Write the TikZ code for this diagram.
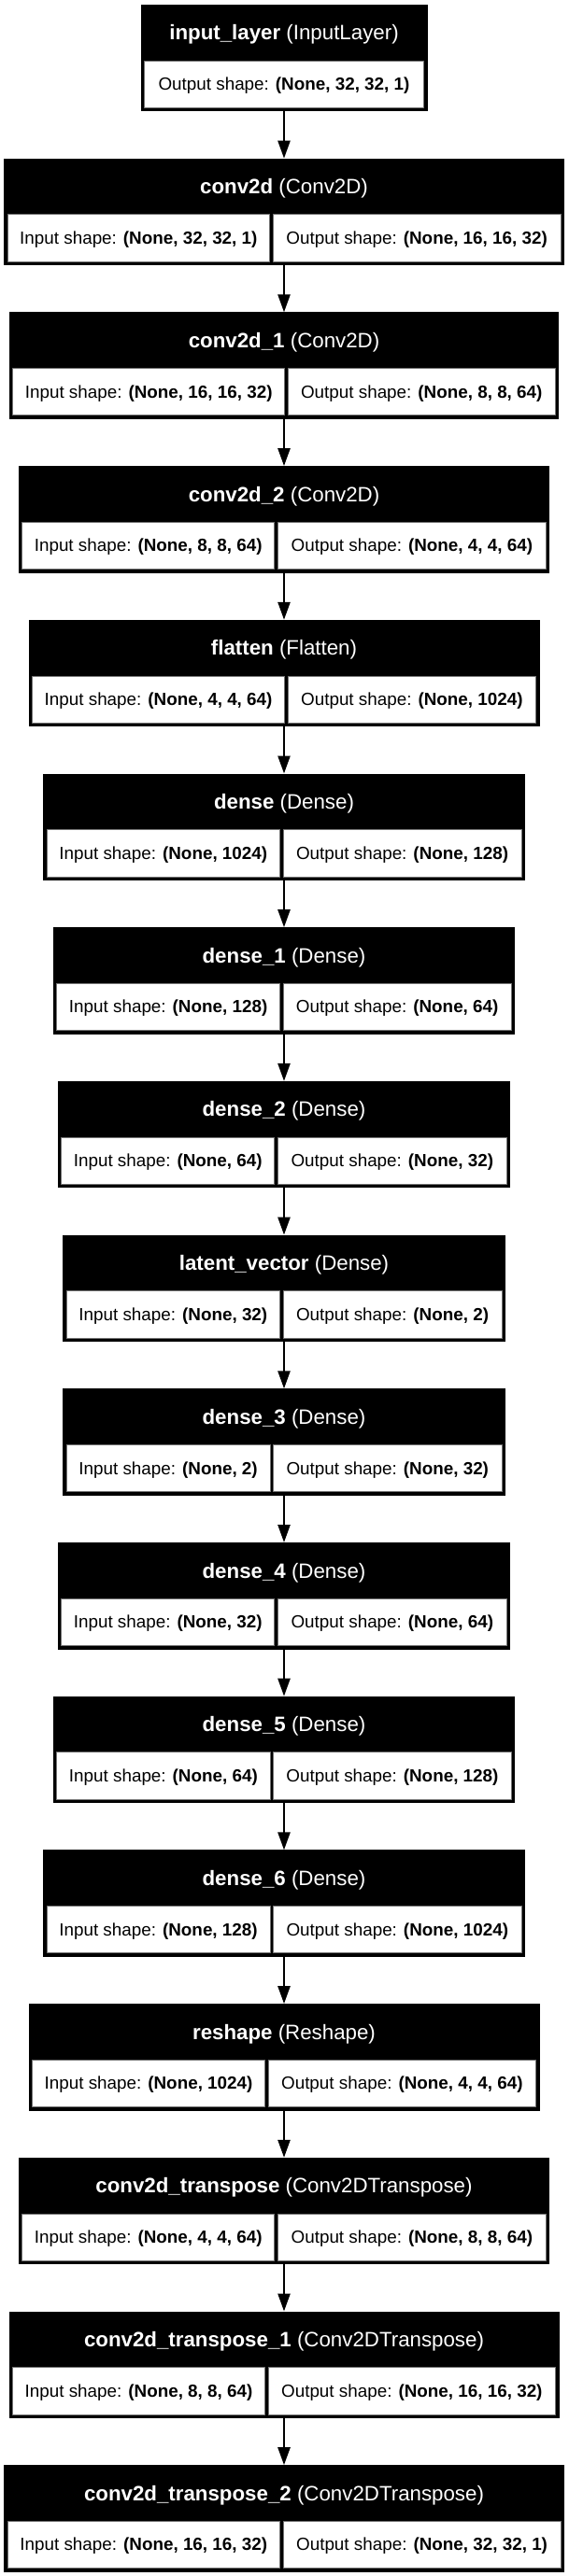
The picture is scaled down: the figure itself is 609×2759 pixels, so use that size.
\documentclass[tikz,border=0pt]{standalone}
\usepackage{fontspec}
\setmainfont{Liberation Sans}
\usetikzlibrary{arrows.meta}

\tikzset{
  layerbox/.style={fill=black, inner sep=0pt, outer sep=0pt, minimum height=114.5},
  headtext/.style={text=white, inner sep=0pt, minimum height=60, text height=20pt, text depth=4pt,
    font=\fontsize{22.3}{26}\selectfont},
  cellbox/.style={fill=white, draw=black!55, line width=0.6, inner sep=0pt, outer sep=0pt,
    minimum height=50.3, anchor=north west, text height=16pt, text depth=2.8pt,
    font=\fontsize{18.85}{22}\selectfont},
  flow/.style={-{Triangle[length=19pt,width=13pt]}, line width=2.4},
}

\begin{document}
\begin{tikzpicture}[x=1pt,y=-1pt]
\fill[white] (0,0) rectangle (609,2759);
\useasboundingbox (0,0) rectangle (609,2759);

\node[layerbox, minimum width=307] (inp) at (304,{5+57.25}) {};
\node[headtext] at (304,{5+30}) {\textbf{input\_layer} (InputLayer)};
\node[cellbox, minimum width=299] (inp-out) at ({304-307/2+4},{5+60}) {Output shape: \textbf{(None, 32, 32, 1)}};

\foreach \nm/\w/\d/\nmtext/\kind/\ins/\outs [count=\k] in {
  cv0/600/-13.5/conv2d/Conv2D/{(None, 32, 32, 1)}/{(None, 16, 16, 32)},
  cv1/588.5/2.45/conv2d\_1/Conv2D/{(None, 16, 16, 32)}/{(None, 8, 8, 64)},
  cv2/568.7/-8.45/conv2d\_2/Conv2D/{(None, 8, 8, 64)}/{(None, 4, 4, 64)},
  flat/547/2.45/flatten/Flatten/{(None, 4, 4, 64)}/{(None, 1024)},
  dn0/516/-2.65/dense/Dense/{(None, 1024)}/{(None, 128)},
  dn1/494.5/-2.65/dense\_1/Dense/{(None, 128)}/{(None, 64)},
  dn2/484.5/-8.45/dense\_2/Dense/{(None, 64)}/{(None, 32)},
  lat/473.8/-2.65/latent\_vector/Dense/{(None, 32)}/{(None, 2)},
  dn3/473.8/-13.15/dense\_3/Dense/{(None, 2)}/{(None, 32)},
  dn4/484.5/-8.45/dense\_4/Dense/{(None, 32)}/{(None, 64)},
  dn5/494.5/-13.15/dense\_5/Dense/{(None, 64)}/{(None, 128)},
  dn6/516/-13.15/dense\_6/Dense/{(None, 128)}/{(None, 1024)},
  resh/547/-18.65/reshape/Reshape/{(None, 1024)}/{(None, 4, 4, 64)},
  ct0/568.7/-8.45/conv2d\_transpose/Conv2DTranspose/{(None, 4, 4, 64)}/{(None, 8, 8, 64)},
  ct1/589/-18.65/conv2d\_transpose\_1/Conv2DTranspose/{(None, 8, 8, 64)}/{(None, 16, 16, 32)},
  ct2/600/-2.65/conv2d\_transpose\_2/Conv2DTranspose/{(None, 16, 16, 32)}/{(None, 32, 32, 1)}}
{
  \node[layerbox, minimum width=\w] (\nm) at (304,{5+164.7*\k+57.25}) {};
  \node[headtext] at (304,{5+164.7*\k+30}) {\textbf{\nmtext} (\kind)};
  \node[cellbox, minimum width={\w/2+(\d)-5.8}] (\nm-in) at ({304-\w/2+4},{5+164.7*\k+60}) {Input shape: \textbf{\ins}};
  \node[cellbox, minimum width={\w/2-(\d)-5.8}] (\nm-out) at ({304+(\d)+1.8},{5+164.7*\k+60}) {Output shape: \textbf{\outs}};
}

\foreach \a/\b in {inp/cv0, cv0/cv1, cv1/cv2, cv2/flat, flat/dn0, dn0/dn1, dn1/dn2, dn2/lat,
  lat/dn3, dn3/dn4, dn4/dn5, dn5/dn6, dn6/resh, resh/ct0, ct0/ct1, ct1/ct2}
  \draw[flow] (\a) -- (\b);
\end{tikzpicture}
\end{document}
